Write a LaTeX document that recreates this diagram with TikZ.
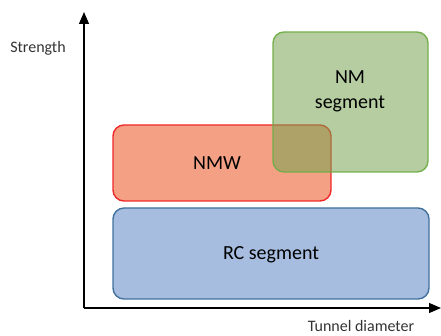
\documentclass[tikz,border=0pt]{standalone}
\usepackage{fontspec}
\setmainfont{Carlito}
\usetikzlibrary{arrows.meta}
\definecolor{gfill}{RGB}{120,164,82}
\definecolor{gline}{RGB}{112,173,71}
\definecolor{rfill}{RGB}{244,160,133}
\definecolor{rline}{RGB}{240,40,40}
\definecolor{bfill}{RGB}{166,189,223}
\definecolor{bline}{RGB}{65,113,156}
\begin{document}
\begin{tikzpicture}[x=1pt,y=-1pt,
  region/.style={rounded corners=11pt,line width=1.4pt},
  lbl/.style={font=\fontsize{20}{25}\selectfont,align=center,text=black},
  axlbl/.style={font=\fontsize{16}{19}\selectfont,text=black!80},
  axis/.style={line width=1.3pt,-{Triangle[width=10pt,length=12pt]}}]
\useasboundingbox (0,0) rectangle (441,336);
\coordinate (o) at (84,308);
\coordinate (ytip) at (84,12);
\coordinate (xtip) at (441,308);
\draw[axis] (o) -- (ytip);
\draw[axis] (o) -- (xtip);
\draw[region,fill=bfill,draw=bline] (113,208) rectangle (429,299);
\draw[region,fill=rfill,draw=rline] (113,125) rectangle (331,201);
\draw[region,fill=gfill,draw=gline,fill opacity=0.55,draw opacity=0.95] (273,32) rectangle (428,172);
\node[lbl] (rc) at (271,255) {RC segment};
\node[lbl] (nmw) at (217,163) {NMW};
\node[lbl] (nm) at (350,91) {NM\\segment};
\node[axlbl] (s) at (38,48) {Strength};
\node[axlbl] (t) at (361,326) {Tunnel diameter};
\end{tikzpicture}
\end{document}
